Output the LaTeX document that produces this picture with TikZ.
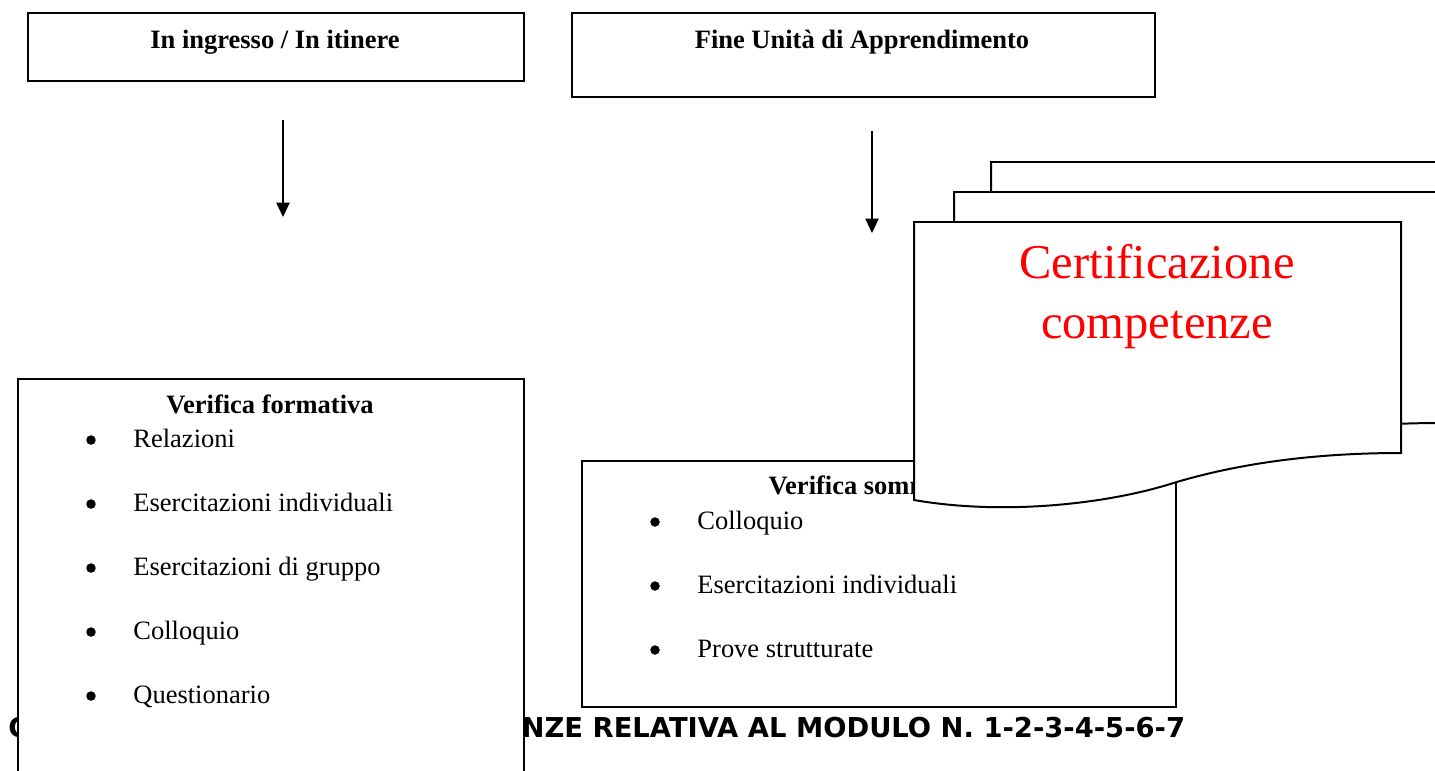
\documentclass[tikz,border=0pt]{standalone}
\usepackage{fontspec}
\setmainfont{Liberation Serif}
\newfontfamily\verdana{DejaVu Sans}
\usepackage{tikz}
\usetikzlibrary{arrows.meta,positioning}
\newdimen\px \px=0.453pt
\tikzstyle{box}=[draw,line width=0.9pt,fill=white,inner sep=0pt,anchor=north west]
\tikzstyle{head}=[font=\bfseries\fontsize{12}{14}\selectfont,anchor=base,inner sep=0pt]
\tikzstyle{item}=[font=\fontsize{12}{14}\selectfont,anchor=base west,inner sep=0pt]
\tikzstyle{dot}=[circle,fill=black,inner sep=0pt,minimum size=9.5\px]
\tikzstyle{sheet}=[draw,line width=0.9pt,fill=white]
\tikzstyle{arr}=[line width=0.6pt,-{Triangle[length=6.5pt,width=6pt]}]
\tikzstyle{big}=[font=\fontsize{22}{27}\selectfont,text=red,anchor=base,inner sep=0pt]

\begin{document}
\begin{tikzpicture}[x=\px,y=-\px]
\clip (0,0) rectangle (1435,771);
\fill[white] (0,0) rectangle (1435,771);

% top boxes
\node[box,minimum width=496\px,minimum height=68\px] (ing) at (27,12) {};
\node[head] (inglab) at (275,48) {In ingresso / In itinere};
\node[box,minimum width=583\px,minimum height=84\px] (fine) at (571,12) {};
\node[head] (finelab) at (862,48) {Fine Unità di Apprendimento};

% arrows
\coordinate (a1s) at (283,120);
\coordinate (a1e) at (283,217);
\coordinate (a2s) at (872,131);
\coordinate (a2e) at (872,233);
\draw[arr] (a1s) -- (a1e);
\draw[arr] (a2s) -- (a2e);

% title line, partly hidden
\node[anchor=base west,inner sep=0pt,font=\verdana\bfseries\fontsize{12.4}{14}\selectfont] (cert) at (8,737)
  {CERTIFICAZIONE DELLE COMPETENZE RELATIVA AL MODULO N. 1-2-3-4-5-6-7};

% verifica formativa
\node[box,minimum width=506\px,minimum height=420\px] (form) at (17,378) {};
\node[head] (formlab) at (270,413) {Verifica formativa};
\foreach \t [count=\i from 0] in {Relazioni,Esercitazioni individuali,Esercitazioni di gruppo,Colloquio,Questionario} {
  \node[dot] (fd\i) at (91,440+64*\i) {};
  \node[item] (fi\i) at (133,447+64*\i) {\t};
}

% verifica sommativa
\node[box,minimum width=594\px,minimum height=246\px] (somm) at (581,460) {};
\node[head] (sommlab) at (878,494) {Verifica sommativa};
\foreach \t [count=\i from 0] in {Colloquio,Esercitazioni individuali,Prove strutturate} {
  \node[dot] (sd\i) at (655,522+64*\i) {};
  \node[item] (si\i) at (697,529+64*\i) {\t};
}

% multidocument
\foreach \dx/\dy in {77/-60,40/-30,0/0}
  \draw[sheet,shift={(\dx,\dy)}] (914,222) -- (1401,222) -- (1401,453)
    .. controls (1320,453) and (1240,462) .. (1167,485)
    .. controls (1100,505) and (1000,515) .. (914,500) -- cycle;
\node[big] (certa) at (1157,278) {Certificazione};
\node[big] (certb) at (1157,338) {competenze};
\end{tikzpicture}
\end{document}
